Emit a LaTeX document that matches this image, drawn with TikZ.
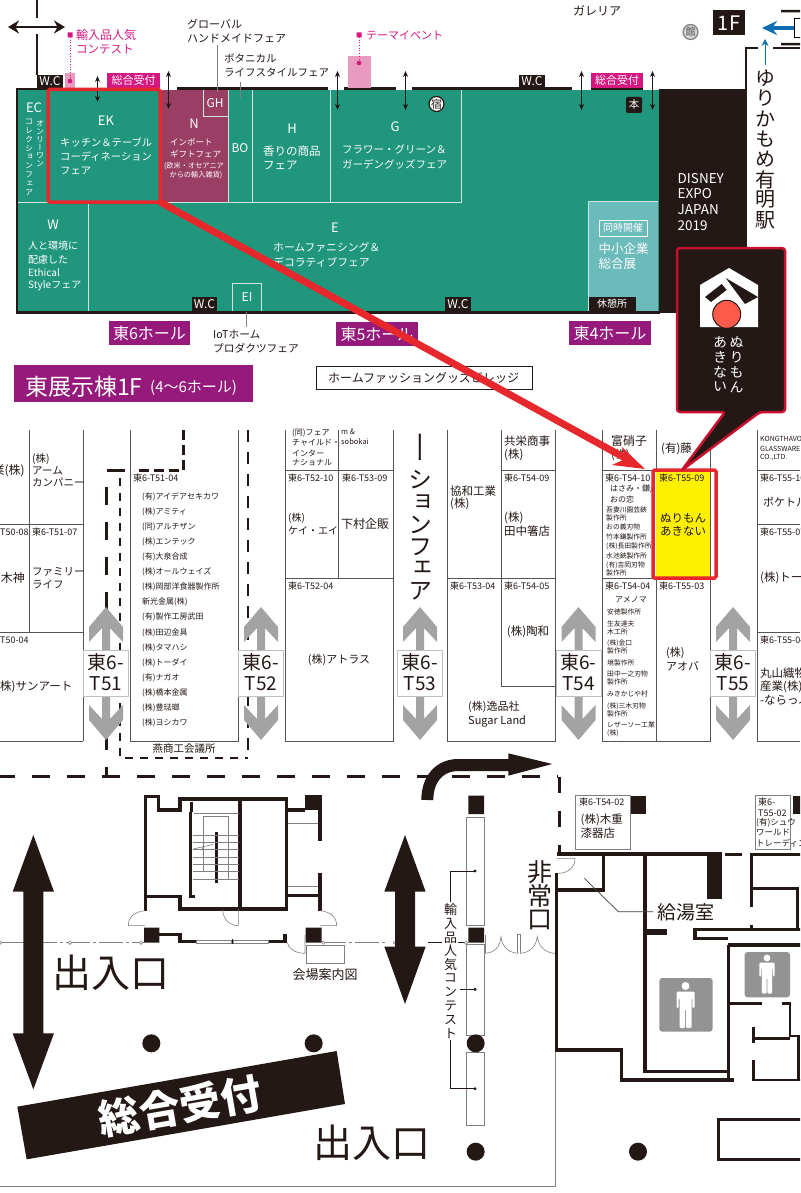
\documentclass[tikz,border=0pt]{standalone}
\usepackage{fontspec}
\usetikzlibrary{arrows.meta}
\setmainfont{Noto Sans CJK JP}
\newfontfamily\vfont[RawFeature=+vert]{Noto Sans CJK JP}
\definecolor{blk}{HTML}{231815}
\definecolor{teal1}{HTML}{20967C}
\definecolor{wine}{HTML}{9A3F63}
\definecolor{pinkl}{HTML}{E89ABF}
\definecolor{mag}{HTML}{D5177F}
\definecolor{purp}{HTML}{951A7C}
\definecolor{redd}{HTML}{E6282D}
\definecolor{panel}{HTML}{6CBBBB}
\definecolor{lgray}{HTML}{A3A3A3}
\definecolor{lineg}{HTML}{555555}
\definecolor{bluea}{HTML}{0E6EB0}
\definecolor{pale}{HTML}{CFE5DF}
\definecolor{yell}{HTML}{FFF000}
\definecolor{dred}{HTML}{C8102E}
\definecolor{disc}{HTML}{FF5A4A}
\newcommand\fs[1]{\fontsize{#1}{#1}\selectfont}
% left aligned, centred and right aligned one-line labels: [colour]{size}{x}{y}{text}
\newcommand\tl[5][blk]{\node[anchor=west,inner sep=0pt,text=#1,font=\fs{#2}] at (#3,#4) {#5};}
\newcommand\tc[5][blk]{\node[inner sep=0pt,text=#1,font=\fs{#2}] at (#3,#4) {#5};}
\newcommand\tr[5][blk]{\node[anchor=east,inner sep=0pt,text=#1,font=\fs{#2}] at (#3,#4) {#5};}
% vertical stack: [colour]{size}{spacing}{x}{y}{chars}
\newcommand\vst[6][blk]{\foreach \cc [count=\ii] in {#6}{\node[inner sep=0pt,text=#1,font=\fs{#2}\vfont] at (#4,{#5+(\ii-1)*#3}) {\cc};}}
% aisle marker
\newcommand\aisle[2]{\begin{scope}[shift={(#1,0)}]
\fill[lgray] (0,607)--(17,627)--(17,642)--(4,628)--(4,651)--(-4,651)--(-4,628)--(-17,642)--(-17,627)--cycle;
\fill[lgray] (0,740)--(17,720)--(17,705)--(4,719)--(4,696)--(-4,696)--(-4,719)--(-17,705)--(-17,720)--cycle;
\draw[fill=white,draw=lightgray,line width=.7pt] (-22.5,650.5) rectangle (22.5,696);
\tc{19}{0}{662}{東6-}
\tc{19}{0}{684}{#2}
\end{scope}}
\newcommand\man[3]{\begin{scope}[shift={(#1,#2)},scale=#3]
\fill[white] (0,-20) circle (4);
\fill[white,rounded corners=1.2pt] (-9,-14.5)--(9,-14.5)--(9,2)--(6.8,2)--(6.8,-8)--(6,-8)--(6,22)--(.5,22)--(.5,3)--(-.5,3)--(-.5,22)--(-6,22)--(-6,-8)--(-6.8,-8)--(-6.8,2)--(-9,2)--cycle;
\end{scope}}
\tikzset{
 wall/.style={draw=blk,line width=3.5pt},
 booth/.style={draw=lineg,line width=1pt},
 thin1/.style={draw=gray,line width=.6pt},
 tiny2/.style={line width=1pt,draw=blk,{Stealth[length=6pt,width=5pt]}-{Stealth[length=6pt,width=5pt]}},
 bigdash/.style={draw=blk,line width=3pt,dash pattern=on 18pt off 17pt},
}
\begin{document}
\begin{tikzpicture}[x=1pt,y=-1pt]
\useasboundingbox (0,0) rectangle (800,1193);
\clip (0,0) rectangle (800,1193);
\fill[white] (0,0) rectangle (800,1193);

%% ===== top: hall plan =====
\fill[teal1] (17,90) rectangle (660,312);
\fill[wine] (160,90) rectangle (228,202);
\fill[panel] (588,201) rectangle (658,311);
\draw[pale,line width=.8pt] (17,202)--(461,202)--(461,90);
\draw[pale,line width=.8pt] (228,90)--(228,202) (252,90)--(252,202) (330,90)--(330,202) (88,202)--(88,312);
\draw[pale,line width=.8pt] (203,90)--(203,116)--(228,116);
\draw[pale,line width=.8pt] (232.5,312)--(232.5,283)--(261,283)--(261,312);
\draw[pale,line width=.8pt] (588,311)--(588,201)--(658,201);
% black building and walls
\fill[blk] (659,89) rectangle (747,313);
\draw[blk,line width=2.5pt] (16,312.5)--(660,312.5);
\draw[blk,line width=2.5pt] (17,312)--(17,89)--(110,89);
\draw[blk,line width=3pt] (177,89)--(328,89) (344,89)--(396,89) (412,89)--(572,89) (591,89)--(643,89);
\draw[blk,line width=2.5pt] (746,89)--(746,48)--(758,48) (773,48)--(800,48);
\draw[blk,line width=2.5pt] (37,0)--(37,18) (37,34)--(37,75);
\draw[blk,line width=2.5pt,{Stealth[length=11pt,width=13pt]}-{Stealth[length=11pt,width=13pt]}] (8,27)--(65,27);
\fill[blk] (781,10) rectangle (800,12.5) (781,43) rectangle (800,45.5);
\draw[black,line width=.6pt,fill=white] (794,18) rectangle (802,37);
\draw[bluea,line width=3.5pt,-{Stealth[length=15pt,width=14pt]}] (794,28)--(762,28);
\draw[bluea,line width=.8pt,-{Stealth[length=7pt,width=7pt]}] (765,65)--(765,39);
% wc tags
\fill[blk] (37,75) rectangle (63,89);
\tc[white]{12}{50}{81.5}{W.C}
\fill[blk] (519,75) rectangle (545,89);
\tc[white]{12}{532}{81.5}{W.C}
\fill[blk] (192,297) rectangle (217,311);
\tc[white]{12}{204.5}{304}{W.C}
\fill[blk] (445,297) rectangle (471,311);
\tc[white]{12}{458}{304}{W.C}
\fill[blk] (589,297) rectangle (636,311);
\tc[white]{10}{612}{304}{休憩所}
% magenta & pink
\fill[pinkl] (65,73) rectangle (75,88);
\fill[pinkl] (348,56) rectangle (371,88);
\fill[mag] (107,73) rectangle (160,88);
\tc[white]{11}{133.5}{80.5}{総合受付}
\fill[mag] (591,73) rectangle (643,88);
\tc[white]{11}{617}{80.5}{総合受付}
\fill[mag] (67.5,32.5) rectangle (72.5,37.5) (356.5,32.5) rectangle (361.5,37.5);
\draw[mag,line width=.7pt,dotted] (70,37)--(70,81) (359,37)--(359,63);
\fill[mag] (70,81) circle (2.3) (359,63) circle (2.3);
\tl[mag]{12}{76}{35}{輸入品人気}
\tl[mag]{11.5}{76}{49}{コンテスト}
\tl[mag]{11}{366}{35}{テーマイベント}
% small arrows
\draw[tiny2] (97.5,76)--(97.5,102);
\draw[tiny2] (168.5,71)--(168.5,109);
\draw[tiny2] (337.5,71)--(337.5,110);
\draw[tiny2] (405.5,71)--(405.5,110);
\draw[tiny2] (581.5,71)--(581.5,110);
\draw[tiny2] (652.5,71)--(652.5,110);
% leaders
\draw[gray,line width=.7pt] (217,45)--(217,92) (240,82)--(240,98) (246.5,312)--(246.5,327);
% top labels
\tl{11}{187}{24}{グローバル}
\tl{11}{187}{38}{ハンドメイドフェア}
\tl{10.5}{224}{58}{ボタニカル}
\tl{10.5}{224}{72}{ライフスタイルフェア}
\tl{12}{573}{11}{ガレリア}
% hall labels
\tc[white]{13}{34}{108}{EC}
\vst[white]{8}{8.2}{40}{123}{オ,ン,リ,ー,ワ,ン}
\vst[white]{8}{8.8}{29}{122}{コ,レ,ク,シ,ョ,ン,フ,ェ,ア}
\tc[white]{13}{106}{121}{EK}
\tl[white]{10.3}{60}{142}{キッチン＆テーブル}
\tl[white]{10.3}{60}{157}{コーディネーション}
\tl[white]{10.3}{60}{171}{フェア}
\tc[white]{13}{194}{124}{N}
\tl[white]{8.5}{170}{142}{インポート}
\tl[white]{8.5}{170}{154}{ギフトフェア}
\tc[white]{7.2}{194}{166.5}{(欧米・オセアニア}
\tc[white]{7.2}{196}{175.5}{からの輸入雑貨)}
\tc[white]{12}{215}{103}{GH}
\tc[white]{12}{240}{148}{BO}
\tc[white]{13}{292}{129}{H}
\tl[white]{11.5}{263}{151}{香りの商品}
\tl[white]{11.5}{263}{166}{フェア}
\tc[white]{13}{395}{127}{G}
\tl[white]{10.5}{342}{149}{フラワー・グリーン＆}
\tl[white]{10.5}{342}{164}{ガーデングッズフェア}
\tc[white]{13}{53}{225}{W}
\tl[white]{10}{28}{246}{人と環境に}
\tl[white]{10}{28}{260}{配慮した}
\tl[white]{10}{28}{273}{Ethical}
\tl[white]{10}{28}{286}{Styleフェア}
\tc[white]{13}{335}{228}{E}
\tl[white]{10.8}{273}{247}{ホームファニシング＆}
\tl[white]{10.8}{273}{262}{デコラティブフェア}
\tc[white]{12}{247}{297}{EI}
\draw[white,line width=.8pt] (599,220) rectangle (647.5,236);
\tc[white]{10}{623}{228}{同時開催}
\tl[white]{12.5}{598.5}{248.5}{中小企業}
\tl[white]{12.5}{598.5}{264}{総合展}
\tl[white]{13.5}{677.5}{178.5}{DISNEY}
\tl[white]{13.5}{677.5}{194}{EXPO}
\tl[white]{13.5}{677.5}{209.5}{JAPAN}
\tl[white]{13.5}{677.5}{225.5}{2019}
% icons
\fill[blk,rounded corners=2pt] (626,97) rectangle (642,113);
\tc[white]{10.5}{634}{105}{本}
\draw[blk,line width=1.2pt,fill=white] (436.5,104) circle (7.5);
\tc{11}{436.5}{104}{宿}
\draw[gray,line width=1.2pt,fill=gray!35] (690.5,32) circle (7.5);
\tc[black!65]{10}{690.5}{32}{館}
\fill[blk] (713,10) rectangle (745,35);
\tc[white]{20}{729}{23}{1F}
\vst{20}{20.3}{765}{78}{ゆ,り,か,も,め,有,明,駅}
% hall name tags
\fill[purp] (109,321) rectangle (190,345);
\tc[white]{16}{149.5}{333}{東6ホール}
\fill[purp] (336,322) rectangle (418,346);
\tc[white]{16}{377}{334}{東5ホール}
\fill[purp] (569,321) rectangle (651,345);
\tc[white]{16}{610}{333}{東4ホール}
\fill[purp] (14,365) rectangle (253,402);
\tl[white]{23}{25}{387}{東展示棟1F}
\tl[white]{15}{150}{388}{(4〜6ホール)}
\tl{10.7}{213}{334}{IoTホーム}
\tl{10.7}{213}{348}{プロダクツフェア}
\draw[blk,line width=1pt] (316,366) rectangle (532,389);
\tl{12}{328}{378}{ホームファッショングッズビレッジ}

%% ===== middle: booths =====
\draw[booth] (29,430)--(29,632) (83,430)--(83,741) (0,524.5)--(83,524.5) (0,632)--(83,632) (0,741)--(83,741);
\draw[booth] (130,430)--(130,741)--(238,741)--(238,430);
\draw[booth] (285,430)--(285,741)--(393,741)--(393,430) (338.5,430)--(338.5,578.5) (285,470.5)--(393,470.5) (285,578.5)--(393,578.5);
\draw[booth] (447,430)--(447,741)--(555,741)--(555,430) (501,430)--(501,686.5)--(555,686.5) (501,470.5)--(555,470.5) (447,578.5)--(555,578.5);
\draw[booth] (602,430)--(602,741)--(710,741)--(710,430) (656,430)--(656,741) (602,470.5)--(710,470.5) (602,578.5)--(710,578.5);
\draw[booth] (757,430)--(757,741)--(800,741) (757,470.5)--(800,470.5) (757,524.5)--(800,524.5) (757,632.5)--(800,632.5);
\fill[yell] (656,470.5) rectangle (710,578.5);
% hidden route dashes
\draw[blk,line width=3pt,dash pattern=on 10pt off 5pt] (183.5,430)--(183.5,470.5)--(134,470.5);
\draw[blk,line width=3pt] (107,470)--(125,470);
\draw[blk,line width=3pt,dash pattern=on 18pt off 17pt] (106.5,486.7)--(106.5,776);
\draw[blk,line width=1.5pt,dash pattern=on 8pt off 7pt] (120,478)--(120,758)--(248,758);
\draw[blk,line width=1.8pt,dash pattern=on 12pt off 10pt] (248,430)--(248,758);
\draw[bigdash] (-3,776.5)--(558,776.5);
\draw[blk,line width=3pt,dash pattern=on 16pt off 18pt] (559,776.5)--(559,855);
% booth labels
\tr{12}{25}{471}{業(株)}
\tl{10.5}{32}{459}{(株)}
\tl{10.5}{32}{471}{アーム}
\tl{10.5}{32}{482}{カンパニー}
\tl{9}{0}{532.5}{T50-08}
\tl{9}{32}{532.5}{東6-T51-07}
\tr{12}{25}{578}{木神}
\tl{10.5}{32}{572}{ファミリー}
\tl{10.5}{32}{585}{ライフ}
\tl{9}{0}{640.5}{T50-04}
\tl{11.5}{0}{687}{株)サンアート}
\tl{9}{133}{478}{東6-T51-04}
\foreach \nm [count=\k] in {(有)アイデアセキカワ,(株)アミティ,(同)アルチザン,(株)エンテック,(有)大泉合成,(株)オールウェイズ,(株)岡部洋食器製作所,新光金属(株),(有)製作工房武田,(株)田辺金具,(株)タマハシ,(株)トーダイ,(有)ナガオ,(株)橋本金属,(株)豊琺瑯,(株)ヨシカワ}{
 \node[anchor=west,inner sep=0pt,text=blk,font=\fs{8}] at (142,{497+(\k-1)*15.05}) {\nm};}
\tc{10.5}{184}{749}{燕商工会議所}
\tl{8}{292}{433}{(同)フェア}
\tl{8}{292}{443}{チャイルド・}
\tl{8}{292}{453}{インター}
\tl{8}{292}{463}{ナショナル}
\tl{7.5}{341}{432}{m \&}
\tl{7.5}{341}{441.5}{sobokai}
\tl{9}{288}{478}{東6-T52-10}
\tl{9}{342}{478}{東6-T53-09}
\tl{10}{288}{518}{(株)}
\tl{10}{288}{531}{ケイ・エイ}
\tl{12}{341}{524}{下村企販}
\tl{9}{288}{586}{東6-T52-04}
\tc{11}{339}{660}{(株)アトラス}
\node[inner sep=0pt,text=blk,font=\fs{24}\vfont,yscale=1.4,transform shape] at (420,447) {ー};
\vst{24}{22.3}{420}{480}{シ,ョ,ン,フ,ェ,ア}
\tl{11.5}{504}{441}{共栄商事}
\tl{11.5}{504}{455}{(株)}
\tl{11.5}{450}{491}{協和工業}
\tl{11.5}{450}{504}{(株)}
\tl{9}{504}{478}{東6-T54-09}
\tl{11.5}{504}{518}{(株)}
\tl{11.5}{504}{531}{田中箸店}
\tl{9}{450}{586}{東6-T53-04}
\tl{9}{504}{586}{東6-T54-05}
\tc{11.5}{528}{632}{(株)陶和}
\tl{11}{468}{707}{(株)逸品社}
\tl{11}{468}{721}{Sugar Land}
\tl{12}{611}{441}{富硝子}
\tl{11}{611}{455}{(株)}
\tl{11.5}{661}{449}{(有)藤}
\tl{9}{605}{478}{東6-T54-10}
\tl{8}{610}{489}{はさみ・鎌/}
\tl{8}{610}{499}{おの恋}
\tl{6.8}{606}{509.5}{吾妻川園芸鋏}
\tl{6.8}{606}{517.5}{製作所}
\tl{6.8}{606}{527}{おの義刃物}
\tl{6.8}{606}{537}{竹本鎌製作所}
\tl{6.8}{606}{546.5}{(株)長田製作所}
\tl{6.8}{606}{556}{水池鋏製作所}
\tl{6.8}{606}{565}{(有)吉岡刃物}
\tl{6.8}{606}{573}{製作所}
\tl{9}{659}{478}{東6-T55-09}
\tc{11.5}{683}{518}{ぬりもん}
\tc{11.5}{683}{531}{あきない}
\tl{9}{605}{586}{東6-T54-04}
\tl{9}{659}{586}{東6-T55-03}
\tl{8}{615}{600}{アメノマ}
\tl{6.8}{607}{612}{安徳製作所}
\tl{6.8}{607}{624}{生友達夫}
\tl{6.8}{607}{632}{木工所}
\tl{6.8}{607}{643}{(株)金口}
\tl{6.8}{607}{651}{製作所}
\tl{6.8}{607}{663}{境製作所}
\tl{6.8}{607}{674}{田中一之刃物}
\tl{6.8}{607}{682}{製作所}
\tl{6.8}{607}{694}{みきかじや村}
\tl{6.8}{607}{706}{(株)三木刃物}
\tl{6.8}{607}{713.5}{製作所}
\tl{6.8}{607}{725}{レザーソー工業}
\tl{6.8}{607}{733}{(株)}
\tl{11}{666}{653}{(株)}
\tl{11}{666}{666}{アオバ}
\tl{7}{760}{439}{KONGTHAVORN}
\tl{7}{760}{448.5}{GLASSWARE}
\tl{7}{760}{458}{CO.,LTD.}
\tl{9}{760}{478}{東6-T55-10}
\tl{11}{763}{502}{ポケトル}
\tl{9}{760}{532.5}{東6-T55-07}
\tl{11.5}{760}{578}{(株)トーダイ}
\tl{9}{760}{640.5}{東6-T55-04}
\tl{11.5}{760}{673}{丸山織物}
\tl{11.5}{760}{687}{産業(株)}
\tl{11.5}{760}{700}{-ならっふ}
\aisle{106}{T51}
\aisle{261}{T52}
\aisle{420}{T53}
\aisle{578.5}{T54}
\aisle{733}{T55}

%% ===== bottom left: core =====
\begin{scope}[shift={(0,750)},x=.33333pt,y=-.33333pt]
 \draw[wall] (437,440)--(437,140)--(475,140)--(475,180)--(540,180)--(540,147)--(860,147)--(860,477)--(540,477)--(540,440)--cycle;
 \draw[wall] (720,147)--(720,477);
 \draw[wall] (575,155)--(575,185);
 \draw[wall] (572,185)--(572,440)--(585,440);
 \draw[wall] (650,245)--(650,400);
 \foreach \yy in {255,277,299,321,343,365,387}{\draw[thin1] (578,\yy)--(716,\yy);}
 \draw[thin1] (610,365)--(610,200)--(685,200)--(685,390) (582,190)--(716,190);
 \draw[thin1] (580,297)--(640,283) (612,280)--(606,302);
 \fill[blk] (915,135) rectangle (965,180);
 \draw[wall] (860,180)--(915,180) (960,180)--(960,272) (960,370)--(960,482) (860,437)--(960,437);
 \draw[thin1] (865,220)--(955,220) (865,408)--(955,408);
 \draw[wall] (437,440)--(437,482);
 \draw[thin1] (435,482) .. controls (405,485) and (385,500) .. (385,527)--(435,527);
 \draw[thin1] (960,482) .. controls (990,485) and (1010,500) .. (1010,527)--(960,527);
 \draw[thin1] (715,477)--(715,527) .. controls (690,527) and (670,510) .. (668,480);
 \fill[blk] (432,533) rectangle (478,578) (917,533) rectangle (965,578);
 \draw[wall] (478,553)--(540,553)--(540,575)--(590,575) (805,575)--(855,575)--(855,553);
 \draw[thin1] (590,570) rectangle (695,580) (700,570) rectangle (805,580);
 \fill[blk] (695,568) rectangle (700,582);
 \draw[thin1] (862,578) .. controls (865,595) and (885,610) .. (915,610)--(915,555);
 \draw[thin1,dash pattern=on 24pt off 3pt on 3pt off 3pt] (0,578)--(432,578);
 \draw[thin1,dash pattern=on 24pt off 3pt on 3pt off 3pt] (965,578)--(1155,578);
 \foreach \cx in {0,210,423,970,1185}{\draw[thin1,fill=white] (\cx,578) circle (5);}
 \draw[thin1,fill=white] (918,587) rectangle (1032,640);
 \fill[blk] (100,255)--(162,425)--(130,425)--(130,850)--(162,850)--(100,1018)--(38,850)--(70,850)--(70,425)--(38,425)--cycle;
 \fill[blk] (454,880) circle (27) (941,880) circle (27);
 \fill[blk] (52,1070)--(1010,903)--(1035,1062)--(80,1228)--cycle;
\end{scope}
\tc{13}{325}{975}{会場案内図}
\tc{39}{111}{973}{出入口}
\node[inner sep=0pt,text=white,font=\fs{41}\bfseries,rotate=9.9] at (180,1106) {総合受付};
\tc{39}{372}{1143}{出入口}

%% ===== bottom right =====
\begin{scope}[shift={(400,750)},x=.33333pt,y=-.33333pt]
 % curved arrow
 \draw[blk,line width=12pt] (82,150) .. controls (82,85) and (120,45) .. (175,45)--(330,45);
 \fill[blk] (325,10)--(457,42)--(325,77)--cycle;
 % right double arrow
 \fill[blk] (15,255)--(77,425)--(45,425)--(45,590)--(77,590)--(15,762)--(-47,590)--(-15,590)--(-15,425)--(-47,425)--cycle;
 % exhibit column
 \fill[blk] (205,137) rectangle (252,192) (205,533) rectangle (252,578);
 \draw[thin1,line width=.8pt] (198,202) rectangle (253,525) (198,582) rectangle (253,855) (198,908) rectangle (253,1125);
 \fill[blk] (227,880) circle (27) (227,1205) circle (27) (714,1205) circle (27);
 \draw[blk,line width=.6pt] (225,363)--(152,363)--(152,455) (225,718)--(180,718) (225,1016)--(152,1016)--(152,870);
 \fill[blk] (225,363) circle (5) (225,718) circle (5) (225,1016) circle (5);
 \draw[blk,line width=.6pt] (85,578)--(125,578) (175,578)--(195,578);
 \draw[thin1,fill=white] (198,578) circle (5);
 % doors
 \draw[thin1] (255,610) .. controls (285,608) and (300,590) .. (303,560) .. controls (306,590) and (325,608) .. (355,610);
 \draw[thin1] (360,610) .. controls (390,608) and (408,590) .. (412,560) .. controls (416,590) and (435,608) .. (465,610);
 \draw[thin1] (353,610)--(353,553)--(361,553)--(361,610) (465,555)--(465,610) (255,555)--(255,610);
 % emergency door
 \draw[thin1] (470,325)--(525,325) .. controls (525,350) and (505,370) .. (475,370);
 % walls
 \draw[wall] (470,312)--(965,312);
 \draw[wall] (975,313)--(1025,313) (1050,313)--(1210,313);
 \fill[blk] (920,315) rectangle (965,447);
 \draw[wall] (470,370)--(470,900)--(665,900)--(665,990)--(1003,990);
 \draw[wall] (470,420)--(610,420)--(610,315) (735,315)--(735,965)--(985,965);
 \draw[blk,line width=6pt] (735,545)--(802,545);
 \draw[wall] (985,585)--(985,990) (880,538)--(1210,538) (885,538)--(885,565)--(985,565) (985,585)--(1210,585);
 \draw[wall] (1055,313)--(1055,470) (1055,415)--(1192,415)--(1192,535) (1055,525)--(1055,538);
 \draw[wall,line width=2.5pt] (990,760)--(1085,760) (1145,760)--(1170,760)--(1170,858)--(1195,858)--(1195,990) (1060,830)--(1060,880) (1060,865)--(1170,865) (1060,930)--(1060,990)--(1210,990);
 \draw[gray!50!black,line width=.7pt] (553,385)--(655,485)--(760,485);
 \draw[blk,line width=3.5pt] (1210,1108)--(955,1108)--(955,1228)--(1210,1228);
 % gray floor line
 \draw[gray,line width=1pt] (-1200,1310)--(465,1310)--(465,905);
 % small booths
 \draw[gray,line width=.9pt,fill=white] (527,135) rectangle (690,297);
 \fill[blk] (692,137) rectangle (738,192);
 \draw[gray,line width=.9pt,fill=white] (1065,135) rectangle (1172,297);
 \fill[blk] (1178,137) rectangle (1210,192);
 % wc signs
 \fill[gray!85,rounded corners=3pt] (778,684) rectangle (938,845);
 \fill[gray!85,rounded corners=3pt] (1034,606) rectangle (1170,742);
\end{scope}
\man{685.5}{1006}{1}
\man{767}{975}{.85}
\tl{9}{579}{802}{東6-T54-02}
\tl{11.5}{580.5}{820}{(株)木重}
\tl{11.5}{580.5}{833}{漆器店}
\tl{9}{758}{802}{東6-}
\tl{9}{758}{813.5}{T55-02}
\tl{8.5}{756}{823}{(有)シュウ}
\tl{8.5}{756}{832.7}{ワールド}
\tl{8.5}{756}{843}{トレーディング}
\tc{19}{685.5}{912}{給湯室}
\vst{25}{24}{539.5}{872}{非,常,口}
\vst{13}{13.7}{450.7}{910}{輸,入,品,人,気,コ,ン,テ,ス,ト}

%% ===== highlights =====
\draw[redd,line width=3.5pt,rounded corners=1.5pt] (48,89.5) rectangle (160,202);
\draw[redd,line width=3.5pt,rounded corners=1.5pt] (653,470) rectangle (716,578);
\draw[redd,line width=7pt] (160,202)--(626,458.5);
\fill[redd] (645,469)--(622,447)--(625,459)--(612,465)--cycle;
% callout
\draw[draw=dred,fill=blk,line width=2.5pt,rounded corners=3pt] (677,248)--(785,248)--(785,412)--(760,412)--(682,470)--(725,412)--(677,412)--cycle;
\fill[white] (700,285)--(729,268)--(758,285)--(758,327)--(700,327)--cycle;
\fill[blk] (725.7,278)--(758,297)--(745,304)--cycle;
\fill[blk] (705,297)--(721.7,284)--(726.7,290)--(711,302)--cycle;
\draw[blk,line width=1pt,fill=disc] (726.7,314.3) circle (14);
\vst[white]{14}{15}{736.7}{342}{ぬ,り,も,ん}
\vst[white]{14}{15}{720}{342}{あ,き,な,い}
\end{tikzpicture}
\end{document}
